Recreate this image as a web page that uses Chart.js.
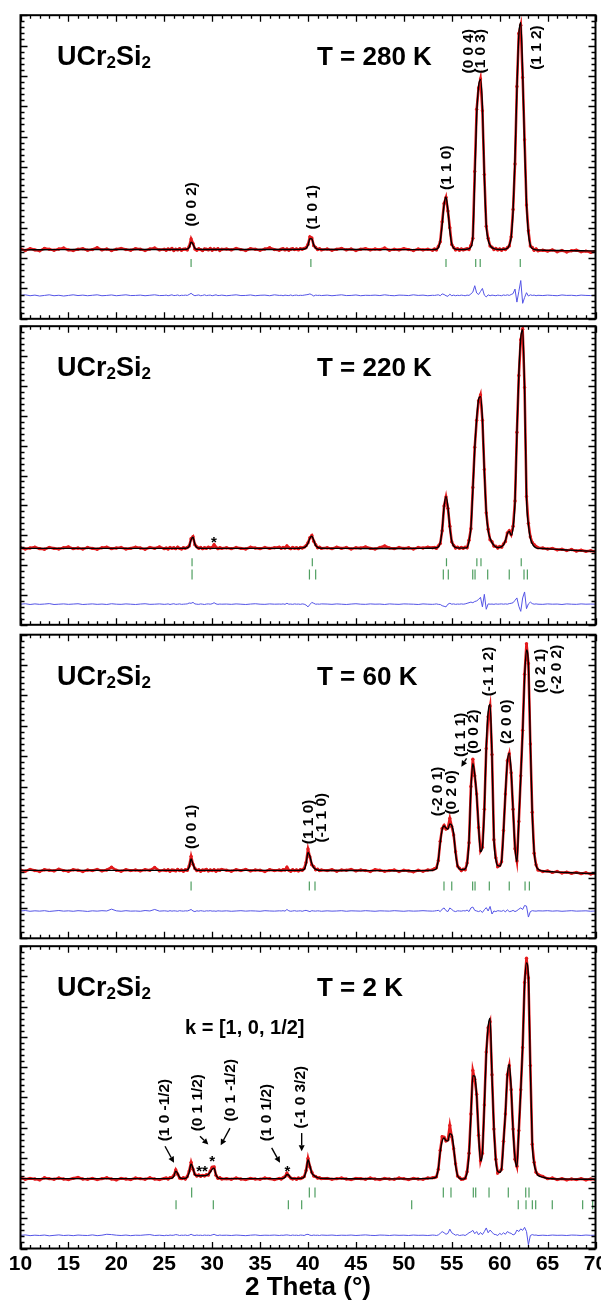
<!DOCTYPE html>
<html>
<head>
<meta charset="utf-8">
<script src="https://cdn.jsdelivr.net/npm/chart.js@4.4.1/dist/chart.umd.min.js"></script>
<style>
  html, body { margin: 0; padding: 0; background: #fff; width: 601px; height: 1303px; overflow: hidden; }
  canvas { position: absolute; left: 0; }
</style>
</head>
<body>
<script>
// 2-theta grid (degrees) shared by every temperature
const twoTheta = [
  10, 10.5, 11, 11.5, 12, 12.5, 13, 13.5, 14, 14.5, 15, 15.5, 16, 16.5, 17, 17.5, 18, 18.5, 19, 19.5, 20, 20.5, 21, 21.5, 22, 22.5, 23, 23.5, 24, 24.5, 25,
  25.2, 25.4, 25.6, 25.8, 26, 26.2, 26.4, 26.6, 26.8, 27, 27.2, 27.4, 27.6, 27.8, 28, 28.2, 28.4, 28.6, 28.8, 29, 29.2, 29.4, 29.6, 29.8, 30, 30.2, 30.4, 30.6, 30.8, 31,
  31.5, 32, 32.5, 33, 33.5, 34, 34.5, 35, 35.5, 36, 36.5, 37,
  37.2, 37.4, 37.6, 37.8, 38, 38.2, 38.4, 38.6, 38.8, 39, 39.2, 39.4, 39.6, 39.8, 40, 40.2, 40.4, 40.6, 40.8, 41, 41.2, 41.4,
  42, 42.5, 43, 43.5, 44, 44.5, 45, 45.5, 46, 46.5, 47, 47.5, 48, 48.5, 49, 49.5, 50, 50.5, 51, 51.5, 52, 52.5, 53,
  53.2, 53.4, 53.6, 53.8, 54, 54.2, 54.4, 54.6, 54.8, 55, 55.2, 55.4, 55.6, 55.8, 56, 56.2, 56.4, 56.6, 56.8, 57,
  57.2, 57.4, 57.6, 57.8, 58, 58.2, 58.4, 58.6, 58.8, 59, 59.2, 59.4, 59.6, 59.8, 60, 60.2, 60.4, 60.6, 60.8, 61,
  61.2, 61.4, 61.6, 61.8, 62, 62.2, 62.4, 62.6, 62.8, 63, 63.2, 63.4, 63.6, 63.8, 64,
  64.5, 65, 65.5, 66, 66.5, 67, 67.5, 68, 68.5, 69, 69.5, 70
];

// ---- T = 280 K ----
const obs280 = [
  2300, 2250, 2310, 2270, 2240, 2320, 2290, 2260, 2300, 2330, 2270, 2250, 2290, 2310, 2260, 2280, 2340, 2270, 2300, 2250, 2290, 2320, 2280, 2260, 2310, 2290, 2250, 2300, 2330, 2270, 2290,
  2260, 2300, 2280, 2320, 2250, 2290, 2270, 2310, 2260, 2290, 2300, 2270, 2380, 2630, 2480, 2300, 2260, 2310, 2280, 2250, 2300, 2290, 2270, 2320, 2260, 2300, 2280, 2310, 2250, 2290,
  2300, 2270, 2320, 2280, 2250, 2310, 2290, 2260, 2300, 2340, 2280, 2260,
  2290, 2310, 2270, 2300, 2260, 2290, 2310, 2280, 2300, 2270, 2310, 2290, 2320, 2340, 2450, 2700, 2660, 2410, 2350, 2280, 2310, 2270,
  2300, 2260, 2290, 2320, 2270, 2300, 2250, 2290, 2310, 2270, 2300, 2280, 2330, 2260, 2290, 2270, 2310, 2280, 2250, 2300, 2270, 2290, 2260,
  2300, 2270, 2380, 2540, 3200, 3800, 4000, 3550, 3000, 2450, 2350, 2270, 2310, 2260, 2300, 2270, 2290, 2310, 2280, 2420,
  2650, 4850, 6900, 7600, 7900, 6850, 4750, 3050, 2650, 2400, 2360, 2280, 2320, 2270, 2300, 2260, 2310, 2280, 2340, 2400,
  2700, 3600, 5100, 7650, 9400, 9670, 7950, 5900, 3750, 2900, 2400, 2350, 2260, 2300, 2240,
  2260, 2230, 2270, 2210, 2250, 2200, 2240, 2260, 2210, 2230, 2190, 2220
];
const calc280 = [
  2270, 2270, 2272, 2274, 2275, 2276, 2277, 2278, 2279, 2280, 2280, 2281, 2282, 2282, 2283, 2283, 2284, 2284, 2284, 2285, 2285, 2285, 2285, 2285, 2285, 2285, 2285, 2285, 2285, 2285, 2285,
  2285, 2285, 2285, 2285, 2285, 2285, 2285, 2285, 2285, 2286, 2288, 2295, 2350, 2520, 2460, 2320, 2290, 2286, 2285, 2285, 2285, 2285, 2285, 2285, 2285, 2285, 2285, 2285, 2285, 2285,
  2285, 2285, 2285, 2285, 2285, 2285, 2285, 2285, 2285, 2285, 2285, 2285,
  2285, 2285, 2285, 2285, 2285, 2285, 2285, 2285, 2286, 2287, 2289, 2292, 2298, 2325, 2420, 2640, 2630, 2430, 2330, 2296, 2287, 2285,
  2284, 2284, 2283, 2283, 2282, 2282, 2281, 2281, 2280, 2280, 2280, 2279, 2279, 2278, 2278, 2278, 2277, 2277, 2277, 2277, 2278, 2279, 2280,
  2282, 2290, 2345, 2570, 3100, 3760, 4010, 3580, 2900, 2470, 2330, 2295, 2285, 2282, 2280, 2282, 2285, 2292, 2310, 2370,
  2700, 4600, 6700, 7650, 7880, 7000, 4700, 3100, 2600, 2420, 2345, 2310, 2295, 2288, 2285, 2285, 2288, 2295, 2320, 2420,
  2690, 3550, 5270, 7550, 9350, 9760, 8100, 5680, 3820, 2810, 2420, 2320, 2285, 2270, 2265,
  2260, 2255, 2252, 2250, 2248, 2246, 2244, 2242, 2240, 2238, 2236, 2234
];
const diff280 = [
  770, 790, 760, 780, 750, 770, 790, 760, 775, 750, 770, 790, 765, 780, 760, 775, 790, 760, 770, 785, 760, 775, 790, 765, 770, 780, 760, 775, 790, 765, 770,
  780, 760, 775, 790, 765, 770, 785, 760, 775, 770, 780, 770, 800, 840, 790, 760, 775, 785, 760, 770, 790, 765, 775, 780, 760, 775, 790, 765, 770, 780,
  760, 775, 790, 765, 770, 785, 760, 775, 780, 760, 790, 770,
  775, 760, 780, 770, 765, 785, 760, 775, 780, 765, 775, 770, 780, 790, 800, 820, 790, 750, 780, 770, 775, 765,
  780, 760, 775, 790, 765, 770, 785, 760, 775, 770, 780, 765, 790, 770, 760, 780, 775, 765, 790, 770, 780, 760, 775,
  770, 780, 790, 760, 820, 800, 760, 740, 810, 760, 780, 760, 775, 765, 780, 770, 760, 780, 770, 820,
  880, 1090, 850, 800, 900, 1000, 780, 720, 790, 760, 780, 770, 760, 780, 770, 760, 785, 770, 790, 770,
  800, 830, 980, 550, 900, 1260, 510, 700, 860, 750, 790, 770, 780, 760, 775,
  765, 780, 770, 760, 785, 770, 775, 760, 780, 770, 765, 775
];
const bragg280 = [27.8, 40.3, 54.4, 57.5, 57.97, 62.15];

// ---- T = 220 K ----
const obs220 = [
  2580, 2540, 2570, 2600, 2550, 2530, 2590, 2560, 2540, 2580, 2610, 2550, 2570, 2540, 2590, 2560, 2530, 2580, 2600, 2550, 2570, 2590, 2540, 2560, 2600, 2570, 2530, 2590, 2560, 2610, 2550,
  2570, 2540, 2590, 2560, 2580, 2550, 2600, 2560, 2540, 2580, 2560, 2590, 2640, 2880, 2950, 2680, 2610, 2560, 2590, 2550, 2580, 2560, 2600, 2570, 2590, 2680, 2600, 2550, 2580, 2560,
  2580, 2550, 2590, 2560, 2540, 2600, 2570, 2550, 2590, 2560, 2580, 2600,
  2560, 2590, 2570, 2640, 2580, 2550, 2590, 2560, 2580, 2550, 2590, 2570, 2600, 2650, 2750, 2920, 2990, 2800, 2680, 2580, 2600, 2560,
  2580, 2550, 2600, 2560, 2590, 2540, 2580, 2570, 2610, 2560, 2540, 2590, 2640, 2570, 2550, 2590, 2560, 2580, 2540, 2590, 2570, 2600, 2580,
  2590, 2560, 2640, 2720, 3150, 3980, 4280, 3900, 3300, 2780, 2660, 2570, 2600, 2560, 2590, 2560, 2600, 2580, 2830, 3220,
  4600, 5950, 6850, 7500, 7700, 6850, 5200, 3750, 3200, 2850, 2780, 2640, 2630, 2570, 2620, 2600, 2710, 2790, 3080, 3150,
  3020, 3300, 4150, 6450, 8350, 9550, 9900, 7950, 4300, 3400, 2950, 2760, 2680, 2620, 2580,
  2570, 2540, 2560, 2510, 2530, 2490, 2520, 2470, 2500, 2460, 2480, 2450
];
const calc220 = [
  2560, 2560, 2560, 2560, 2560, 2560, 2560, 2560, 2560, 2560, 2560, 2560, 2560, 2560, 2560, 2560, 2560, 2560, 2560, 2560, 2560, 2560, 2560, 2560, 2560, 2560, 2560, 2560, 2560, 2560, 2560,
  2560, 2560, 2560, 2560, 2560, 2560, 2560, 2560, 2560, 2562, 2565, 2575, 2630, 2850, 2930, 2700, 2590, 2568, 2562, 2560, 2560, 2560, 2560, 2560, 2560, 2560, 2560, 2560, 2560, 2560,
  2560, 2560, 2560, 2560, 2560, 2560, 2560, 2560, 2560, 2560, 2560, 2560,
  2560, 2560, 2560, 2560, 2560, 2560, 2560, 2560, 2560, 2562, 2566, 2575, 2590, 2630, 2730, 2900, 2970, 2830, 2660, 2595, 2572, 2565,
  2560, 2560, 2560, 2559, 2559, 2558, 2558, 2557, 2557, 2556, 2556, 2555, 2555, 2555, 2555, 2555, 2556, 2557, 2558, 2559, 2560, 2562, 2565,
  2570, 2580, 2610, 2750, 3200, 3950, 4300, 3950, 3250, 2800, 2640, 2590, 2575, 2570, 2568, 2570, 2575, 2590, 2800, 3250,
  4500, 5900, 6900, 7550, 7640, 6900, 5150, 3800, 3150, 2900, 2750, 2660, 2610, 2590, 2595, 2620, 2680, 2820, 3050, 3130,
  3000, 3250, 4100, 6400, 8400, 9600, 9880, 7900, 4300, 3350, 2900, 2720, 2620, 2575, 2560,
  2555, 2545, 2535, 2525, 2515, 2505, 2495, 2488, 2480, 2472, 2465, 2458
];
const diff220 = [
  690, 705, 680, 700, 685, 695, 710, 680, 690, 700, 685, 695, 705, 680, 690, 700, 685, 695, 680, 705, 690, 685, 700, 690, 680, 695, 705, 685, 690, 700, 685,
  690, 700, 680, 695, 705, 685, 690, 700, 685, 690, 695, 700, 730, 720, 750, 700, 690, 685, 700, 690, 680, 695, 700, 690, 705, 740, 700, 685, 695, 690,
  695, 685, 700, 690, 680, 695, 705, 690, 685, 700, 690, 695,
  690, 700, 685, 720, 690, 695, 685, 700, 690, 695, 685, 700, 690, 660, 600, 680, 750, 720, 690, 695, 690, 700,
  695, 685, 700, 690, 680, 695, 705, 690, 685, 700, 690, 695, 680, 700, 690, 685, 700, 695, 690, 680, 700, 690, 685,
  690, 700, 685, 680, 640, 620, 600, 690, 720, 690, 700, 685, 695, 690, 700, 690, 700, 720, 740, 760,
  740, 780, 800, 850, 920, 600, 1020, 520, 700, 690, 695, 685, 700, 690, 695, 700, 690, 700, 690, 710,
  720, 740, 820, 900, 620, 450, 900, 1100, 540, 700, 760, 710, 690, 700, 690,
  685, 700, 690, 695, 680, 700, 690, 685, 700, 690, 695, 690
];
const bragg220a = [27.9, 40.45, 54.45, 57.62, 58.05, 62.25];
const bragg220b = [27.9, 40.15, 40.8, 54.12, 54.64, 57.19, 57.43, 58.75, 61.0, 62.54, 62.89];

// ---- T = 60 K ----
const obs60 = [
  2250, 2210, 2270, 2230, 2200, 2260, 2240, 2220, 2280, 2230, 2210, 2260, 2240, 2200, 2250, 2230, 2270, 2220, 2250, 2340, 2240, 2210, 2260, 2230, 2250, 2220, 2260, 2240, 2330, 2220, 2250,
  2230, 2260, 2210, 2250, 2240, 2220, 2270, 2230, 2250, 2210, 2260, 2240, 2380, 2700, 2440, 2300, 2230, 2260, 2210, 2250, 2240, 2270, 2220, 2250, 2230, 2260, 2210, 2250, 2240, 2270,
  2240, 2210, 2260, 2230, 2270, 2220, 2250, 2240, 2200, 2260, 2230, 2250,
  2230, 2260, 2250, 2340, 2240, 2210, 2260, 2230, 2250, 2220, 2260, 2240, 2300, 2500, 2940, 2680, 2420, 2360, 2260, 2280, 2230, 2250,
  2230, 2260, 2210, 2250, 2240, 2270, 2220, 2250, 2230, 2200, 2260, 2240, 2210, 2230, 2250, 2200, 2240, 2220, 2190, 2240, 2210, 2250, 2260,
  2290, 2320, 2560, 3200, 3620, 3720, 3600, 3640, 3950, 3680, 3400, 2850, 2380, 2310, 2230, 2280, 2260, 2480, 3150, 5000,
  5900, 5350, 4750, 3650, 2880, 3000, 4250, 6250, 7300, 7650, 6050, 3250, 2650, 2360, 2400, 2520, 3550, 4750, 5850, 6080,
  5450, 4250, 2950, 2550, 3850, 5350, 6850, 8700, 9700, 9050, 6400, 4150, 2800, 2420, 2250,
  2200, 2220, 2170, 2200, 2150, 2180, 2140, 2170, 2130, 2160, 2120, 2140
];
const calc60 = [
  2236, 2236, 2236, 2236, 2236, 2236, 2236, 2236, 2236, 2236, 2236, 2236, 2236, 2236, 2236, 2236, 2236, 2236, 2236, 2236, 2236, 2236, 2236, 2236, 2236, 2236, 2236, 2236, 2236, 2236, 2236,
  2236, 2236, 2236, 2236, 2236, 2236, 2236, 2236, 2236, 2237, 2240, 2250, 2340, 2610, 2450, 2285, 2245, 2237, 2236, 2236, 2236, 2236, 2236, 2236, 2236, 2236, 2236, 2236, 2236, 2236,
  2236, 2236, 2236, 2236, 2236, 2236, 2236, 2236, 2236, 2236, 2236, 2236,
  2236, 2236, 2236, 2236, 2236, 2236, 2236, 2236, 2236, 2238, 2242, 2250, 2270, 2450, 2830, 2700, 2460, 2330, 2275, 2250, 2240, 2237,
  2235, 2235, 2234, 2234, 2233, 2233, 2232, 2232, 2231, 2230, 2230, 2229, 2228, 2228, 2227, 2226, 2226, 2225, 2225, 2226, 2228, 2232, 2240,
  2260, 2300, 2600, 3150, 3580, 3700, 3630, 3590, 3770, 3720, 3450, 2800, 2400, 2290, 2260, 2265, 2290, 2450, 3200, 4900,
  5760, 5400, 4700, 3700, 2850, 3000, 4200, 6300, 7450, 7700, 6000, 3300, 2600, 2390, 2380, 2550, 3500, 4800, 5800, 6100,
  5500, 4200, 3000, 2520, 3900, 5300, 6800, 8600, 9500, 9000, 6500, 4100, 2850, 2400, 2280,
  2215, 2200, 2190, 2180, 2172, 2165, 2158, 2152, 2146, 2140, 2135, 2130
];
const diff60 = [
  900, 915, 890, 905, 895, 910, 885, 900, 915, 895, 905, 890, 910, 900, 885, 905, 895, 910, 900, 960, 905, 890, 910, 895, 900, 890, 915, 900, 950, 895, 905,
  900, 890, 910, 895, 905, 900, 890, 910, 900, 895, 905, 900, 920, 950, 900, 880, 905, 895, 910, 900, 890, 905, 900, 910, 895, 900, 890, 905, 900, 895,
  905, 890, 900, 910, 895, 905, 900, 890, 910, 900, 895, 905,
  900, 910, 895, 950, 905, 890, 900, 910, 895, 900, 905, 890, 910, 920, 900, 880, 910, 900, 895, 905, 900, 890,
  905, 895, 900, 910, 890, 905, 900, 895, 910, 900, 890, 905, 900, 895, 910, 900, 890, 905, 895, 900, 910, 900, 895,
  900, 910, 920, 880, 960, 1000, 910, 880, 1000, 950, 900, 880, 905, 900, 895, 910, 900, 930, 880, 1000,
  1030, 920, 900, 880, 910, 850, 940, 1010, 900, 1050, 800, 900, 880, 910, 900, 890, 920, 870, 940, 880,
  890, 920, 880, 910, 960, 1000, 950, 1080, 1060, 700, 880, 910, 900, 895, 905,
  900, 910, 895, 905, 890, 900, 910, 895, 900, 905, 890, 900
];
const bragg60 = [27.8, 40.14, 40.73, 54.19, 55.0, 57.18, 57.43, 58.92, 61.0, 62.65, 63.1];

// ---- T = 2 K ----
const obs2 = [
  2330, 2290, 2320, 2300, 2270, 2340, 2310, 2290, 2330, 2300, 2280, 2320, 2350, 2300, 2290, 2320, 2280, 2310, 2340, 2300, 2270, 2320, 2300, 2280, 2330, 2310, 2290, 2340, 2300, 2280, 2320,
  2330, 2300, 2340, 2350, 2420, 2600, 2460, 2330, 2310, 2340, 2300, 2380, 2560, 2850, 2620, 2460, 2400, 2430, 2390, 2420, 2400, 2440, 2430, 2560, 2690, 2700, 2420, 2320, 2340, 2300,
  2310, 2290, 2330, 2300, 2280, 2320, 2300, 2290, 2330, 2310, 2280, 2320,
  2300, 2340, 2380, 2490, 2400, 2330, 2300, 2320, 2290, 2330, 2310, 2340, 2380, 2580, 2980, 2700, 2520, 2400, 2380, 2330, 2340, 2310,
  2320, 2290, 2310, 2330, 2300, 2280, 2320, 2310, 2290, 2330, 2300, 2280, 2320, 2300, 2290, 2330, 2310, 2280, 2320, 2300, 2290, 2330, 2340,
  2350, 2370, 2620, 3250, 3700, 3680, 3560, 3600, 4070, 3700, 3300, 2800, 2400, 2350, 2290, 2300, 2320, 2540, 3150, 4450,
  5890, 5600, 5100, 3750, 2900, 3150, 4750, 6500, 7300, 7500, 5750, 3950, 2950, 2500, 2550, 2620, 3550, 4450, 5750, 6050,
  5250, 3950, 2950, 2720, 3900, 5250, 6650, 8800, 9600, 8950, 6050, 3450, 2850, 2520, 2450,
  2380, 2310, 2330, 2280, 2310, 2270, 2300, 2280, 2310, 2270, 2300, 2280
];
const calc2 = [
  2310, 2310, 2310, 2310, 2310, 2310, 2310, 2310, 2310, 2310, 2310, 2310, 2310, 2310, 2310, 2310, 2310, 2310, 2310, 2310, 2310, 2310, 2310, 2310, 2310, 2310, 2310, 2310, 2310, 2310, 2310,
  2310, 2312, 2318, 2330, 2390, 2560, 2480, 2350, 2320, 2315, 2320, 2360, 2520, 2800, 2650, 2440, 2410, 2405, 2405, 2405, 2410, 2420, 2450, 2530, 2620, 2660, 2440, 2340, 2318, 2312,
  2310, 2310, 2310, 2310, 2310, 2310, 2310, 2310, 2310, 2310, 2310, 2310,
  2312, 2320, 2360, 2450, 2420, 2335, 2315, 2312, 2312, 2315, 2320, 2330, 2370, 2560, 2940, 2730, 2500, 2420, 2375, 2345, 2328, 2320,
  2315, 2312, 2310, 2310, 2308, 2308, 2306, 2306, 2305, 2305, 2304, 2304, 2303, 2303, 2302, 2302, 2302, 2303, 2304, 2306, 2310, 2316, 2325,
  2340, 2380, 2650, 3200, 3550, 3660, 3570, 3560, 3800, 3760, 3350, 2750, 2420, 2330, 2300, 2295, 2330, 2520, 3100, 4400,
  5720, 5700, 5050, 3800, 2900, 3200, 4700, 6400, 7350, 7620, 5700, 4000, 2900, 2550, 2520, 2650, 3500, 4500, 5700, 6100,
  5300, 3900, 3000, 2700, 3950, 5200, 6700, 8700, 9450, 9000, 6000, 3500, 2800, 2550, 2420,
  2360, 2320, 2305, 2300, 2298, 2296, 2294, 2292, 2291, 2290, 2290, 2290
];
const diff2 = [
  435, 450, 425, 440, 430, 445, 420, 435, 450, 430, 440, 425, 445, 435, 430, 450, 425, 440, 470, 460, 440, 430, 445, 425, 440, 435, 450, 460, 430, 440, 425,
  440, 430, 445, 435, 440, 460, 450, 430, 440, 435, 445, 430, 440, 470, 440, 430, 445, 435, 440, 430, 445, 435, 440, 430, 450, 470, 440, 430, 445, 435,
  440, 430, 445, 435, 425, 440, 450, 430, 440, 435, 445, 430,
  440, 435, 445, 450, 440, 430, 445, 435, 440, 430, 445, 440, 430, 460, 470, 440, 430, 445, 435, 440, 430, 445,
  435, 445, 430, 440, 435, 445, 430, 440, 450, 435, 430, 445, 440, 430, 445, 435, 440, 430, 445, 435, 440, 430, 445,
  440, 430, 450, 500, 560, 520, 470, 500, 640, 520, 480, 440, 460, 430, 440, 450, 430, 470, 520, 550,
  600, 490, 560, 450, 530, 460, 560, 680, 520, 610, 540, 470, 460, 430, 500, 460, 520, 470, 560, 520,
  500, 450, 480, 610, 560, 650, 600, 700, 560, 120, 430, 460, 440, 445, 430,
  440, 430, 445, 435, 440, 430, 445, 440, 430, 445, 435, 440
];
const bragg2Nuclear = [27.86, 40.14, 40.73, 54.12, 54.92, 57.25, 57.5, 58.89, 60.9, 62.72, 63.06];
const bragg2Magnetic = [26.23, 30.12, 37.95, 39.34, 50.82, 61.94, 62.75, 63.41, 63.76, 65.49, 68.66, 69.7];

// Reflection indices: [text, 2theta, intensity at the foot of the label]
const hkl280 = [["(0 0 2)", 27.95, 3040], ["(1 0 1)", 40.52, 2943], ["(1 1 0)", 54.5, 4244],
                ["(0 0 4)", 56.8, 8081], ["(1 0 3)", 58.05, 8081], ["(1 1 2)", 63.95, 8201]];
const hkl60 = [["(0 0 1)", 27.95, 2938], ["(1 1 0)", 40.1, 3101], ["(-1 1 0)", 41.43, 3156],
               ["(-2 0 1)", 53.62, 4020], ["(0 2 0)", 55.03, 4075], ["(1 1 1)", 55.97, 5968],
               ["(0 0 2)", 57.32, 6078], ["(-1 1 2)", 58.89, 7970], ["(2 0 0)", 60.82, 6403],
               ["(0 2 1)", 64.31, 8078], ["(-2 0 2)", 66.0, 8036]];
const hkl2 = [["(1 0 -1/2)", 25.08, 3547], ["(0 1 1/2)", 28.52, 3875], ["(0 1 -1/2)", 31.97, 4202],
              ["(1 0 1/2)", 35.77, 3547], ["(-1 0 3/2)", 39.27, 3973]];
// Arrows: [from 2theta, from intensity, to 2theta, to intensity]
const arrows60 = [[56.55, 5930, 56.0, 5650]];
const arrows2 = [[25.08, 3383, 26.02, 2836], [28.73, 3710, 29.6, 3439], [31.86, 3983, 30.89, 3416],
                 [36.21, 3327, 37.08, 2836], [39.34, 3819, 39.34, 3219]];
// Impurity markers: [text, 2theta, intensity]
const stars220 = [["*", 30.18, 2898]];
const stars2 = [["**", 28.94, 2663], ["*", 30.01, 3023], ["*", 37.86, 2695]];

const FAM = "'Liberation Sans', Arial, Helvetica, sans-serif";
const RED = '#e41a1c', BLUE = '#5454e6', GREEN = '#4f9e60';

const panels = [
  { top: 13, bottom: 320.5, temp: 'T = 280 K', obs: obs280, calc: calc280, diff: diff280,
    bragg: [{ pos: bragg280, y: 1836, r: 4 }], hkl: hkl280, arrows: [], stars: [] },
  { top: 323.5, bottom: 628, temp: 'T = 220 K', obs: obs220, calc: calc220, diff: diff220,
    bragg: [{ pos: bragg220a, y: 2094, r: 4 }, { pos: bragg220b, y: 1683, r: 5 }], hkl: [], arrows: [], stars: stars220 },
  { top: 632, bottom: 940.5, temp: 'T = 60 K', obs: obs60, calc: calc60, diff: diff60,
    bragg: [{ pos: bragg60, y: 1722, r: 4.5 }], hkl: hkl60, arrows: arrows60, stars: [] },
  { top: 943.5, bottom: 1248.5, temp: 'T = 2 K', obs: obs2, calc: calc2, diff: diff2,
    bragg: [{ pos: bragg2Nuclear, y: 1853, r: 5 }, { pos: bragg2Magnetic, y: 1446, r: 4.5 }],
    hkl: hkl2, arrows: arrows2, stars: stars2, kText: 'k = [1, 0, 1/2]', last: true }
];

panels.forEach(p => ['obs', 'calc', 'diff'].forEach(k => {
  if (p[k].length !== twoTheta.length) console.error(p.temp, k, p[k].length);
}));

// frame with inward major/minor ticks on all four sides
const framePlugin = {
  id: 'frame',
  afterDatasetsDraw(chart) {
    const { ctx, chartArea: a, scales: { x, y } } = chart;
    ctx.save();
    ctx.strokeStyle = '#000';
    ctx.lineWidth = 1.3;
    ctx.beginPath();
    for (let v = 10; v <= 70; v += 1) {
      const px = Math.round(x.getPixelForValue(v)) + 0.5;
      const len = v % 5 === 0 ? 6.5 : 3.5;
      ctx.moveTo(px, a.top); ctx.lineTo(px, a.top + len);
      ctx.moveTo(px, a.bottom); ctx.lineTo(px, a.bottom - len);
    }
    for (let v = 0; v <= 10000; v += 200) {
      const py = Math.round(y.getPixelForValue(v)) + 0.5;
      const len = v % 1000 === 0 ? 7 : 4;
      ctx.moveTo(a.left, py); ctx.lineTo(a.left + len, py);
      ctx.moveTo(a.right, py); ctx.lineTo(a.right - len, py);
    }
    ctx.stroke();
    ctx.lineWidth = 2;
    ctx.strokeRect(a.left, a.top, a.right - a.left, a.bottom - a.top);
    ctx.restore();
  }
};

// panel captions, reflection indices, arrows and markers
const textPlugin = {
  id: 'captions',
  afterDraw(chart) {
    const p = chart.canvas.$panel;
    if (!p) return;
    const { ctx, chartArea: a, scales: { x, y } } = chart;
    ctx.save();
    ctx.fillStyle = '#000';
    ctx.textAlign = 'left';
    ctx.textBaseline = 'alphabetic';
    // chemical formula with subscripts
    let cx = a.left + 36.5;
    const cy = a.top + 50;
    const parts = [['UCr', 27, 0], ['2', 17, 3], ['Si', 27, 0], ['2', 17, 3]];
    parts.forEach(([t, s, d]) => {
      ctx.font = `bold ${s}px ${FAM}`;
      ctx.fillText(t, cx, cy + d);
      cx += ctx.measureText(t).width;
    });
    ctx.font = `bold 26px ${FAM}`;
    ctx.fillText(p.temp, a.left + 296.5, cy);
    if (p.kText) {
      ctx.font = `bold 20px ${FAM}`;
      ctx.fillText(p.kText, a.left + 164.5, a.top + 88);
    }
    // rotated reflection labels (slightly elongated lettering)
    ctx.font = `bold 14px ${FAM}`;
    ctx.textBaseline = 'middle';
    p.hkl.forEach(([t, tt, I]) => {
      ctx.save();
      ctx.translate(x.getPixelForValue(tt), y.getPixelForValue(I));
      ctx.rotate(-Math.PI / 2);
      ctx.scale(1.1, 1);
      ctx.fillText(t, 0, 0);
      ctx.restore();
    });
    // arrows
    ctx.strokeStyle = '#000';
    ctx.lineWidth = 1.4;
    p.arrows.forEach(([t1, i1, t2, i2]) => {
      const x1 = x.getPixelForValue(t1), y1 = y.getPixelForValue(i1);
      const x2 = x.getPixelForValue(t2), y2 = y.getPixelForValue(i2);
      const ang = Math.atan2(y2 - y1, x2 - x1);
      const hl = 6, hw = 3;
      const bx = x2 - hl * Math.cos(ang), by = y2 - hl * Math.sin(ang);
      ctx.beginPath(); ctx.moveTo(x1, y1); ctx.lineTo(bx, by); ctx.stroke();
      ctx.beginPath();
      ctx.moveTo(x2, y2);
      ctx.lineTo(bx + hw * Math.sin(ang), by - hw * Math.cos(ang));
      ctx.lineTo(bx - hw * Math.sin(ang), by + hw * Math.cos(ang));
      ctx.closePath(); ctx.fill();
    });
    // impurity markers
    ctx.font = `bold 15px ${FAM}`;
    ctx.textAlign = 'center';
    ctx.textBaseline = 'alphabetic';
    p.stars.forEach(([t, tt, I]) => {
      ctx.fillText(t, x.getPixelForValue(tt), y.getPixelForValue(I) + 8.5);
    });
    ctx.restore();
  }
};

const W = 620;
panels.forEach(p => {
  const canvasTop = Math.floor(p.top) - 3;
  const height = p.last ? 1303 - canvasTop : Math.ceil(p.bottom) + 3 - canvasTop;
  const padTop = p.top - canvasTop;
  const padBottom = p.last ? 0 : height - (p.bottom - canvasTop);
  const axisH = p.last ? height - (p.bottom - canvasTop) : 0;

  const canvas = document.createElement('canvas');
  canvas.width = W; canvas.height = height;
  canvas.style.top = canvasTop + 'px';
  canvas.style.width = W + 'px'; canvas.style.height = height + 'px';
  canvas.$panel = p;
  document.body.appendChild(canvas);

  const series = arr => twoTheta.map((t, i) => ({ x: t, y: arr[i] }));
  const datasets = [
    { label: 'calc', data: series(p.calc), borderColor: '#000', borderWidth: 1.4,
      pointRadius: 0, cubicInterpolationMode: 'monotone', fill: false },
    { label: 'obs', data: series(p.obs), borderColor: RED, backgroundColor: RED, borderWidth: 2.6,
      pointRadius: 1.7, pointBorderWidth: 0, fill: false },
    { label: 'diff', data: series(p.diff), borderColor: BLUE, borderWidth: 1,
      pointRadius: 0, fill: false }
  ];
  p.bragg.forEach((row, k) => datasets.push({
    label: 'bragg' + k, type: 'scatter', data: row.pos.map(v => ({ x: v, y: row.y })),
    pointStyle: 'line', rotation: 90, radius: row.r, borderColor: GREEN, borderWidth: 1.2
  }));

  new Chart(canvas, {
    type: 'line',
    data: { datasets },
    options: {
      responsive: false, animation: false, events: [],
      layout: { padding: { left: 20.5, right: W - 595.5, top: padTop, bottom: padBottom } },
      plugins: { legend: { display: false }, tooltip: { enabled: false } },
      scales: {
        x: {
          type: 'linear', min: 10, max: 70, display: !!p.last,
          grid: { display: false, drawTicks: false }, border: { display: false },
          ticks: { stepSize: 5, autoSkip: false, maxRotation: 0, padding: 3, color: '#000',
                   font: { family: FAM, size: 21, weight: 'bold', lineHeight: 1.2 } },
          title: { display: true, text: '2 Theta (°)', color: '#000', padding: { top: 0, bottom: 0 },
                   font: { family: FAM, size: 26, weight: 'bold', lineHeight: 1.2 } },
          afterFit: s => { s.height = axisH; }
        },
        y: { type: 'linear', min: 0, max: 10000, display: false }
      }
    },
    plugins: [framePlugin, textPlugin]
  });
});
</script>
</body>
</html>
